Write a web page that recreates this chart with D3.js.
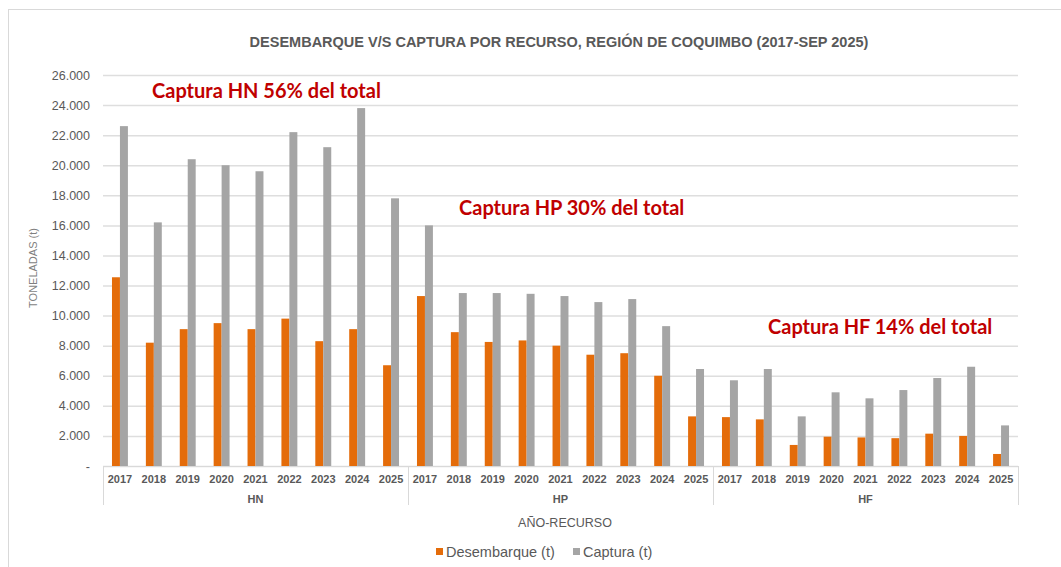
<!DOCTYPE html>
<html>
<head>
<meta charset="utf-8">
<script src="https://cdn.jsdelivr.net/npm/d3@7"></script>
<style>
  body { margin: 0; background: #fff; }
  text { font-family: "Liberation Sans", Arial, sans-serif; }
</style>
</head>
<body>
<div id="chart"></div>
<script>
// Data
const groups = ["HN", "HP", "HF"];
const years = ["2017", "2018", "2019", "2020", "2021", "2022", "2023", "2024", "2025"];
const desembarqueHN = [12550, 8200, 9100, 9500, 9100, 9800, 8300, 9100, 6700];
const capturaHN = [22600, 16200, 20400, 20000, 19600, 22200, 21200, 23800, 17800];
const desembarqueHP = [11300, 8900, 8250, 8350, 8000, 7400, 7500, 6000, 3300];
const capturaHP = [16000, 11500, 11500, 11450, 11300, 10900, 11100, 9300, 6450];
const desembarqueHF = [3250, 3100, 1400, 1950, 1900, 1850, 2150, 2000, 800];
const capturaHF = [5700, 6450, 3300, 4900, 4500, 5050, 5850, 6600, 2700];
const seriesNames = ["Desembarque (t)", "Captura (t)"];
const yTicks = [0, 2000, 4000, 6000, 8000, 10000, 12000, 14000, 16000, 18000, 20000, 22000, 24000, 26000];
const notes = ["Captura HN 56% del total", "Captura HP 30% del total", "Captura HF 14% del total"];

function init() {
    const width = 1061, height = 567;
    const margin = {left: 103, right: 43, top: 75, bottom: 101};
    const colors = ["#E46C0A", "#A5A5A5"];

    const svg = d3.select("#chart").append("svg")
        .attr("width", width)
        .attr("height", height);

    // outer frame (cut off at right/bottom like the screenshot)
    svg.append("rect")
        .attr("x", 8.5).attr("y", 9.5)
        .attr("width", 1100).attr("height", 600)
        .attr("fill", "none").attr("stroke", "#d9d9d9");

    // flatten rows
    const desemb = {HN: desembarqueHN, HP: desembarqueHP, HF: desembarqueHF};
    const capt = {HN: capturaHN, HP: capturaHP, HF: capturaHF};
    const rows = [];
    groups.forEach(g => years.forEach((y, i) => {
        rows.push({key: g + "-" + y, group: g, year: y, values: [desemb[g][i], capt[g][i]]});
    }));

    const x0 = d3.scaleBand()
        .domain(rows.map(d => d.key))
        .range([margin.left, width - margin.right])
        .paddingInner(0.53)
        .paddingOuter(0.265);
    const x1 = d3.scaleBand()
        .domain([0, 1])
        .range([0, x0.bandwidth()]);
    const y = d3.scaleLinear()
        .domain([0, 26000])
        .range([height - margin.bottom, margin.top]);

    const fmt = d => d === 0 ? "-" : d3.format(",")(d).replace(/,/g, ".");

    // gridlines + y labels
    const yAxis = svg.append("g")
        .attr("transform", `translate(${margin.left},0)`)
        .call(d3.axisLeft(y).tickValues(yTicks).tickFormat(fmt)
            .tickSize(-(width - margin.left - margin.right)).tickPadding(13));
    yAxis.select(".domain").remove();
    yAxis.selectAll(".tick line").attr("stroke", "#dedede").attr("stroke-width", 1.5);
    yAxis.selectAll(".tick text")
        .attr("fill", "#595959")
        .style("font-size", "12.5px");

    // bars
    const cat = svg.append("g").selectAll("g")
        .data(rows)
        .join("g")
        .attr("transform", d => `translate(${x0(d.key)},0)`);
    cat.selectAll("rect")
        .data(d => d.values.map((v, i) => ({i, v})))
        .join("rect")
        .attr("x", d => x1(d.i))
        .attr("width", x1.bandwidth())
        .attr("y", d => y(d.v))
        .attr("height", d => y(0) - y(d.v))
        .attr("fill", d => colors[d.i]);

    // x axis line
    const base = y(0);
    svg.append("line")
        .attr("x1", margin.left).attr("x2", width - margin.right)
        .attr("y1", base + 0.5).attr("y2", base + 0.5)
        .attr("stroke", "#d9d9d9");

    // year labels
    svg.append("g").selectAll("text")
        .data(rows)
        .join("text")
        .attr("x", d => x0(d.key) + x0.bandwidth() / 2)
        .attr("y", base + 17)
        .attr("text-anchor", "middle")
        .attr("fill", "#595959")
        .style("font-size", "11px")
        .style("font-weight", "bold")
        .text(d => d.year);

    // group separators and labels
    const step = x0.step();
    const groupEdges = groups.map((g, i) => margin.left + i * years.length * step);
    groupEdges.push(width - margin.right);
    svg.append("g").selectAll("line")
        .data(groupEdges)
        .join("line")
        .attr("x1", d => Math.round(d) + 0.5).attr("x2", d => Math.round(d) + 0.5)
        .attr("y1", base).attr("y2", base + 39)
        .attr("stroke", "#d9d9d9");
    svg.append("g").selectAll("text")
        .data(groups)
        .join("text")
        .attr("x", (d, i) => (groupEdges[i] + groupEdges[i + 1]) / 2)
        .attr("y", base + 37)
        .attr("text-anchor", "middle")
        .attr("fill", "#595959")
        .style("font-size", "11px")
        .style("font-weight", "bold")
        .text(d => d);

    // axis titles
    svg.append("text")
        .attr("x", 565).attr("y", 527)
        .attr("text-anchor", "middle")
        .attr("fill", "#595959")
        .style("font-size", "12.5px")
        .text("AÑO-RECURSO");
    svg.append("text")
        .attr("transform", "translate(37,268) rotate(-90)")
        .attr("text-anchor", "middle")
        .attr("fill", "#7f7f7f")
        .style("font-size", "11px")
        .text("TONELADAS (t)");

    // title
    svg.append("text")
        .attr("x", 559).attr("y", 47)
        .attr("text-anchor", "middle")
        .attr("fill", "#595959")
        .style("font-size", "14.5px")
        .style("font-weight", "bold")
        .text("DESEMBARQUE V/S CAPTURA POR RECURSO, REGIÓN DE COQUIMBO (2017-SEP 2025)");

    // annotations
    const notePos = [[152, 98], [459, 215], [768, 334]];
    svg.append("g").selectAll("text")
        .data(notes)
        .join("text")
        .attr("x", (d, i) => notePos[i][0])
        .attr("y", (d, i) => notePos[i][1])
        .attr("fill", "#C00000")
        .style("font-family", "Lato, 'Open Sans', sans-serif")
        .style("font-size", "20px")
        .style("font-weight", "bold")
        .text(d => d);

    // legend
    const legend = svg.append("g").attr("transform", "translate(436,552)");
    const legX = [0, 137];
    const item = legend.selectAll("g")
        .data(seriesNames)
        .join("g")
        .attr("transform", (d, i) => `translate(${legX[i]},0)`);
    item.append("rect")
        .attr("x", 0).attr("y", -4)
        .attr("width", 7).attr("height", 7)
        .attr("fill", (d, i) => colors[i]);
    item.append("text")
        .attr("x", 10).attr("y", 5)
        .attr("fill", "#595959")
        .style("font-size", "14.5px")
        .text(d => d);
}
window.onload = init;
</script>
</body>
</html>
